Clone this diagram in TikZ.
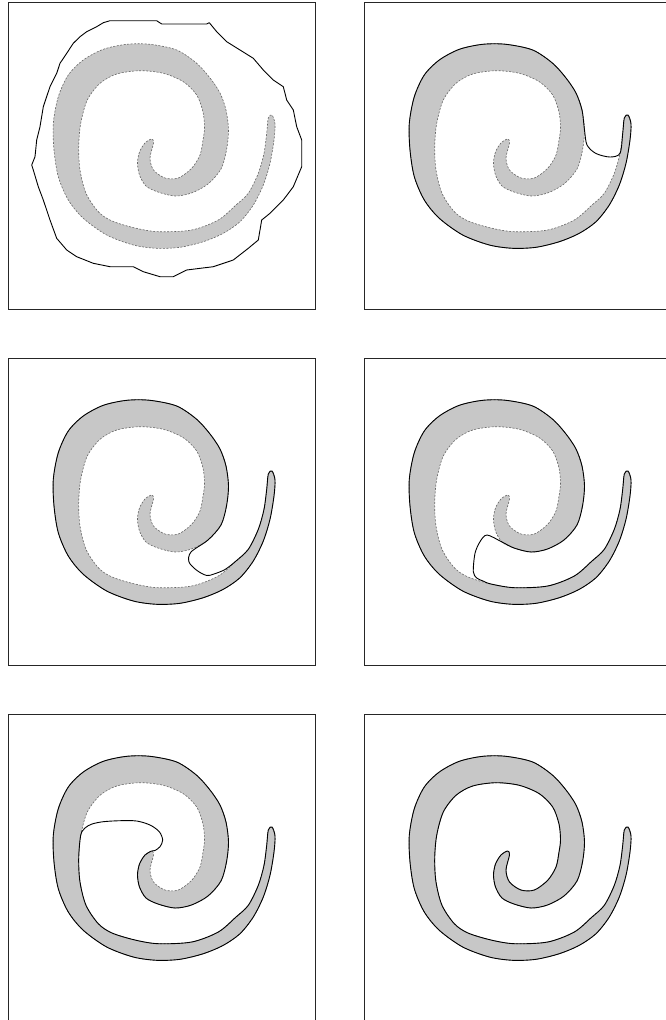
\documentclass[tikz,border=0pt]{standalone}

% Puntos del borde de la espiral (coordenadas del panel 1)
\newcommand{\puntosespiral}{%
  \foreach \n/\px/\py in {o1/151.7/139, o2/145/143, o3/139.5/152, o4/137.5/163,
      o5/139.5/175, o6/146/186, o7/158/192, o8/175/196, o9/191.5/193, o10/208/184,
      o11/221/169, o12/226.5/150, o13/228.5/130, o14/226/110, o15/220/93,
      o16/210/78, o17/196.7/63.3, o18/176.7/50, o19/150/44.3, o20/126.7/44.3,
      o21/103.3/49.3, o22/83.3/60, o23/68.3/75, o24/58.3/96.7, o25/53.3/123.3,
      o26/54/150, o27/58.3/176.7, o28/68.3/200, o29/83.3/218.3, o30/106.7/235,
      o31/133.3/245, o32/156.7/248.3, o33/180/247.3, o34/203.3/241.7,
      o35/223.3/233.3, o36/240/221.7, o37/253.3/205, o38/263.3/185,
      o39/270/163.3, o40/274/140, o41/275/124, t/272/115,
      i1/268.3/118, i2/266.7/133.3, i3/264/153.3, i4/258.3/173.3, i5/248.3/193.3,
      i6/236/205, i7/218.3/220, i8/191.7/230, i9/158.3/231.7, i10/135/228,
      i11/112/221, i12/98.3/211.7, i13/86/193.3, i14/80/170, i15/78.7/146.7,
      i16/80.7/123.3, i17/87.3/100, i18/100/83.3, i19/116.7/74, i20/140/70.7,
      i21/163.3/73.3, i22/183.3/81.7, i23/196.7/95, i24/203/112, i25/204.5/128,
      i26/203/140, i27/200/155, i28/191.7/168.3, i29/178.3/178, i30/165/178,
      i31/153.5/170, i32/150/158, i33/153.5/143}
    \coordinate (\n) at (\px,\py);%
}

\newcommand{\bordeespiral}{plot[smooth cycle] coordinates {(o1) (o2) (o3) (o4)
  (o5) (o6) (o7) (o8) (o9) (o10) (o11) (o12) (o13) (o14) (o15) (o16) (o17) (o18)
  (o19) (o20) (o21) (o22) (o23) (o24) (o25) (o26) (o27) (o28) (o29) (o30) (o31)
  (o32) (o33) (o34) (o35) (o36) (o37) (o38) (o39) (o40) (o41) (t) (i1) (i2) (i3)
  (i4) (i5) (i6) (i7) (i8) (i9) (i10) (i11) (i12) (i13) (i14) (i15) (i16) (i17)
  (i18) (i19) (i20) (i21) (i22) (i23) (i24) (i25) (i26) (i27) (i28) (i29) (i30)
  (i31) (i32) (i33)}}

\begin{document}
\begin{tikzpicture}[x=1pt,y=-1pt,
  marco/.style={draw=black!85,line width=1pt},
  espiral/.style={fill=black!22,draw=black!60,line width=0.6pt,dash pattern=on 2pt off 1.5pt},
  contorno/.style={draw=black,line width=0.9pt,line join=round}]
  \useasboundingbox (0,0) rectangle (665,1020);

  % Marcos y espirales
  \foreach \c/\r in {0/0,1/0,0/1,1/1,0/2,1/2} {
    \begin{scope}[shift={(356*\c,356*\r)}]
      \puntosespiral
      \draw[marco] (8,2) rectangle (315,309);
      \path[espiral] \bordeespiral;
    \end{scope}
  }

  % Panel 1: contorno inicial
  \draw[contorno] plot[sharp cycle] coordinates {(110,20.7) (156.7,20.7) (161.7,24)
    (206.7,24) (209.3,22.7) (216.7,31.7) (226.7,41.7) (240,50) (253.3,58.3)
    (263.3,70) (273.3,80) (283.3,86.7) (286.7,100) (293.3,110) (296.7,126.7)
    (301.7,140) (301.7,166.7) (293.3,186.7) (283.3,200) (270,213.3) (261.7,220)
    (258.3,240) (248.3,248.3) (233.3,260) (213.3,266.7) (186.7,270) (173.3,276.7)
    (160,276.7) (143.3,271.7) (133.3,266.7) (110,266.7) (93.3,263.3) (76.7,256.7)
    (66.7,250) (56.7,238.3) (50,220) (43.3,200) (38.3,186.7) (33.3,170) (31.7,165)
    (35,156.7) (36.7,140) (40,126.7) (43.3,106.7) (50,86.7) (56.7,73.3) (60,63.3)
    (66.7,53.3) (73.3,43.3) (80,36.7) (86.7,31.7) (96.7,26.7) (103.3,22.7)};

  % Panel 2
  \begin{scope}[shift={(356,0)}]
    \puntosespiral
    \draw[contorno] plot[smooth cycle] coordinates {(o13) (o14) (o15) (o16)
      (o17) (o18) (o19) (o20) (o21) (o22) (o23) (o24) (o25) (o26) (o27) (o28) (o29)
      (o30) (o31) (o32) (o33) (o34) (o35) (o36) (o37) (o38) (o39) (o40) (o41) (t)
      (i1) (i2) (i3) (254,157) (240,153.5) (231,145)};
  \end{scope}

  % Panel 3
  \begin{scope}[shift={(0,356)}]
    \puntosespiral
    \draw[contorno] plot[smooth cycle] coordinates {(191,196) (o10) (o11)
      (o12) (o13) (o14) (o15) (o16) (o17) (o18) (o19) (o20) (o21) (o22) (o23) (o24)
      (o25) (o26) (o27) (o28) (o29) (o30) (o31) (o32) (o33) (o34) (o35) (o36) (o37)
      (o38) (o39) (o40) (o41) (t) (i1) (i2) (i3) (i4) (i5) (i6) (225,213.5)
      (214,218) (206.7,219.5) (197,214.5) (189,206)};
  \end{scope}

  % Panel 4
  \begin{scope}[shift={(356,356)}]
    \puntosespiral
    \draw[contorno] plot[smooth cycle] coordinates {(131,179) (o6) (o7) (o8)
      (o9) (o10) (o11) (o12) (o13) (o14) (o15) (o16) (o17) (o18) (o19) (o20) (o21)
      (o22) (o23) (o24) (o25) (o26) (o27) (o28) (o29) (o30) (o31) (o32) (o33) (o34)
      (o35) (o36) (o37) (o38) (o39) (o40) (o41) (t) (i1) (i2) (i3) (i4) (i5) (i6)
      (i7) (i8) (i9) (i10) (127,225) (120.7,222) (117.3,215.7) (119,197.3)
      (124,185.7)};
  \end{scope}

  % Panel 5
  \begin{scope}[shift={(0,712)}]
    \puntosespiral
    \draw[contorno] plot[smooth cycle] coordinates {(o1) (o2) (o3) (o4) (o5)
      (o6) (o7) (o8) (o9) (o10) (o11) (o12) (o13) (o14) (o15) (o16) (o17) (o18)
      (o19) (o20) (o21) (o22) (o23) (o24) (o25) (o26) (o27) (o28) (o29) (o30) (o31)
      (o32) (o33) (o34) (o35) (o36) (o37) (o38) (o39) (o40) (o41) (t) (i1) (i2) (i3)
      (i4) (i5) (i6) (i7) (i8) (i9) (i10) (i11) (i12) (i13) (i14) (i15) (i16)
      (85,116) (92,112) (103.3,109.7) (120,108.7) (136.7,109) (150,113)
      (159.3,119.7) (162.7,128) (160,134.7) (155,138.5)};
  \end{scope}

  % Panel 6: contorno final
  \begin{scope}[shift={(356,712)}]
    \puntosespiral
    \draw[contorno] \bordeespiral;
  \end{scope}
\end{tikzpicture}
\end{document}
